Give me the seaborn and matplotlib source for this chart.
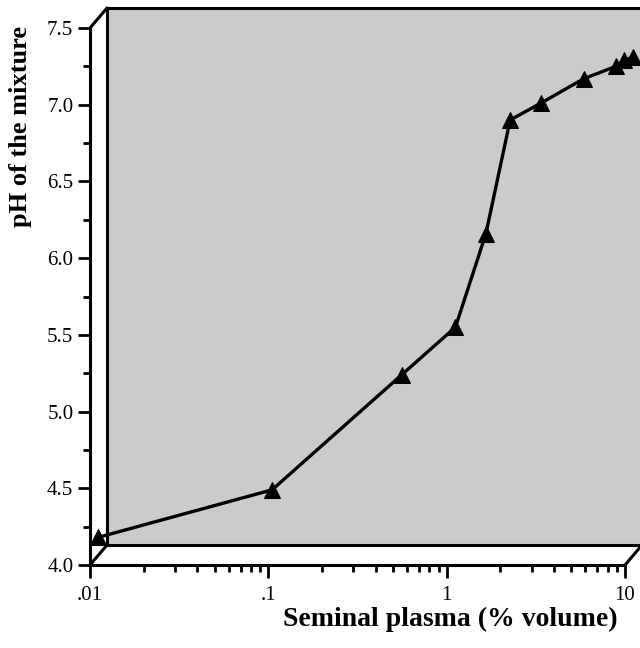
import matplotlib
matplotlib.use("Agg")
import matplotlib.pyplot as plt
import matplotlib.ticker as mticker
from matplotlib.patches import Rectangle
from matplotlib.lines import Line2D
import seaborn as sns
import pandas as pd

# ---- data ----
plasma_pct = [0.0111, 0.105, 0.56, 1.12, 1.66, 2.27, 3.37, 5.88, 8.9, 9.9, 11.1]
ph_values = [4.18, 4.49, 5.24, 5.55, 6.16, 6.90, 7.01, 7.17, 7.25, 7.29, 7.31]
x_ticks = [0.01, 0.1, 1, 10]
x_tick_labels = [".01", ".1", "1", "10"]
y_ticks = [4.0, 4.5, 5.0, 5.5, 6.0, 6.5, 7.0, 7.5]
y_tick_labels = ["4.0", "4.5", "5.0", "5.5", "6.0", "6.5", "7.0", "7.5"]

sns.set_style("white")
plt.rcParams["font.family"] = ["Liberation Serif", "DejaVu Serif"]
plt.rcParams["text.color"] = "black"

W, H = 640, 648
fig = plt.figure(figsize=(6.4, 6.48), dpi=100)
ax = fig.add_axes([90 / W, 83 / H, 535 / W, 537 / H])
ax.patch.set_alpha(0)

# back plane (pseudo-3D)
dx = 17 / 535
dy = 20 / 537
back = Rectangle((dx, dy), 1.2, 1.0, transform=ax.transAxes, facecolor="#cbcbcb",
                 edgecolor="black", linewidth=2.2, clip_on=False, zorder=0)
ax.add_patch(back)
for (x0, y0) in [(0, 0), (0, 1), (1, 0)]:
    ax.add_line(Line2D([x0, x0 + dx], [y0, y0 + dy], transform=ax.transAxes,
                       color="black", linewidth=2.2, clip_on=False, zorder=1))

df = pd.DataFrame({"plasma": plasma_pct, "ph": ph_values})
sns.lineplot(data=df, x="plasma", y="ph", ax=ax, color="black", linewidth=2.4,
             marker="^", markersize=11, markeredgecolor="black", sort=False,
             clip_on=False, zorder=5)

ax.set_xscale("log")
ax.set_xlim(0.01, 10)
ax.set_ylim(4.0, 7.5)
ax.set_xticks(x_ticks)
ax.set_xticklabels(x_tick_labels)
ax.set_yticks(y_ticks)
ax.set_yticklabels(y_tick_labels)
ax.xaxis.set_minor_locator(mticker.LogLocator(base=10, subs=range(2, 10)))
ax.xaxis.set_minor_formatter(mticker.NullFormatter())
ax.yaxis.set_minor_locator(mticker.MultipleLocator(0.25))

for s in ["top", "right"]:
    ax.spines[s].set_visible(False)
for s in ["left", "bottom"]:
    ax.spines[s].set_linewidth(2.2)
    ax.spines[s].set_color("black")
    ax.spines[s].set_zorder(2)

ax.tick_params(axis="both", which="both", bottom=True, left=True, top=False, right=False)
ax.tick_params(axis="both", which="major", direction="out", length=9, width=2,
               labelsize=15, color="black", labelcolor="black", pad=3)
ax.tick_params(axis="both", which="minor", direction="out", length=5, width=2,
               color="black")
ax.tick_params(axis="x", which="major", pad=6)

ax.set_xlabel("Seminal plasma (% volume)", fontsize=20, fontweight="bold", color="black")
ax.xaxis.set_label_coords(0.673, -0.078)
ax.set_ylabel("pH of the mixture", fontsize=19, fontweight="bold", color="black")
ax.yaxis.set_label_coords(-0.108, 0.8175)

fig.savefig("out.png", dpi=100)
